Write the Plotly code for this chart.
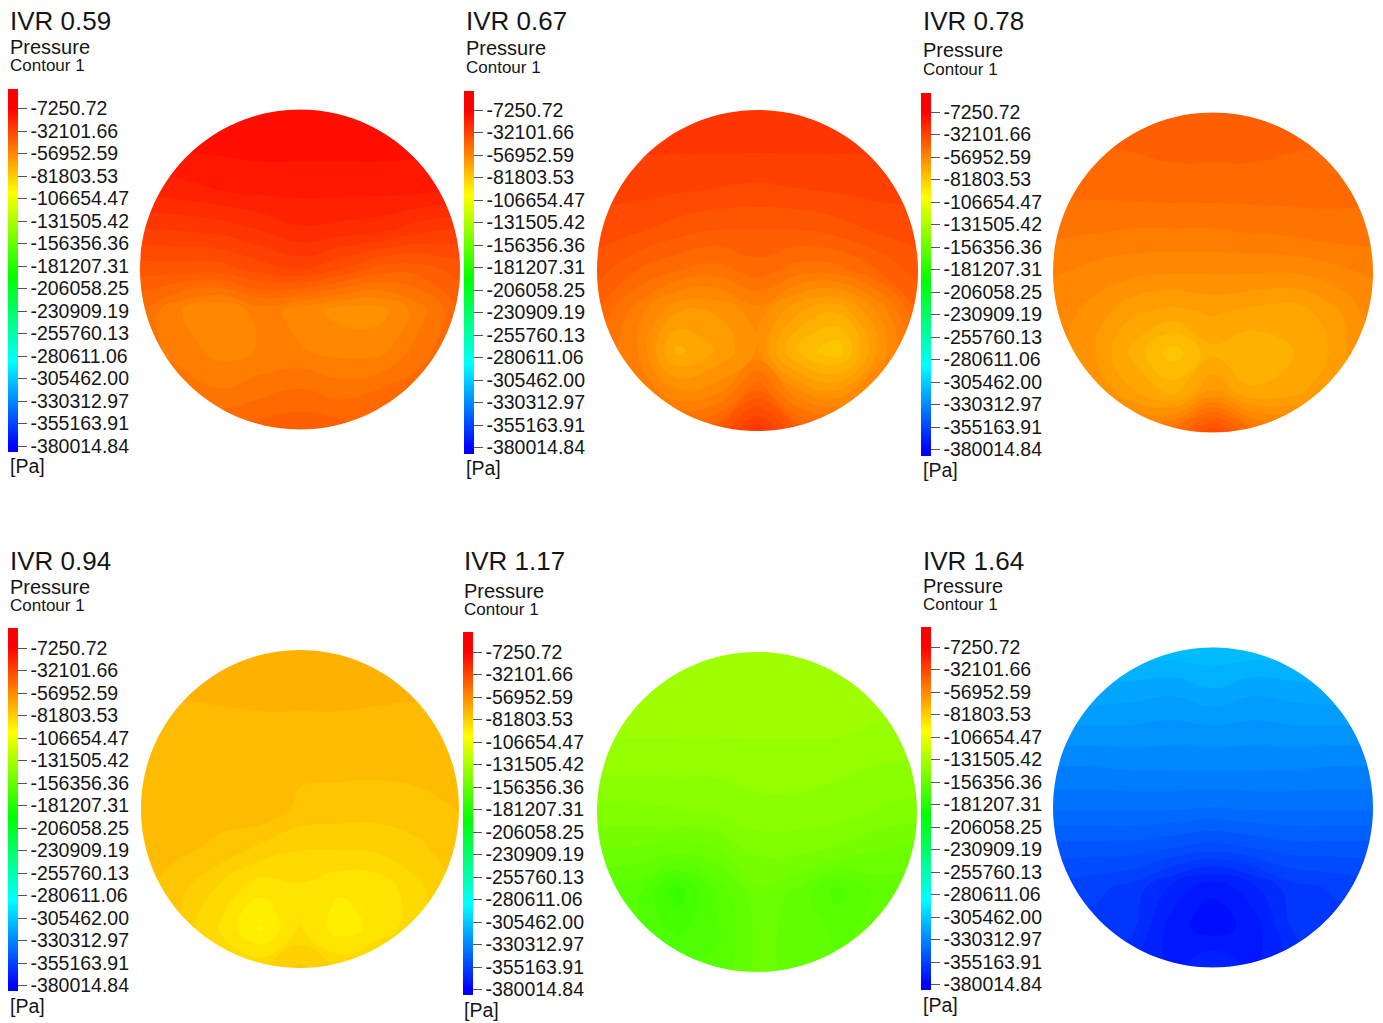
import plotly.graph_objects as go

W, H = 1383, 1023
OFF = 0  # page body margin is removed by the post script below

# ---------------- data ----------------
IVR_LABELS = ["IVR 0.59", "IVR 0.67", "IVR 0.78", "IVR 0.94", "IVR 1.17", "IVR 1.64"]
QUANTITY = "Pressure"
CONTOUR_NAME = "Contour 1"
UNIT = "[Pa]"

P_MAX = -7250.72
P_MIN = -380014.84
TICK_VALUES = [-7250.72, -32101.66, -56952.59, -81803.53, -106654.47, -131505.42,
               -156356.36, -181207.31, -206058.25, -230909.19, -255760.13,
               -280611.06, -305462.00, -330312.97, -355163.91, -380014.84]
TICK_LABELS = ["-7250.72", "-32101.66", "-56952.59", "-81803.53", "-106654.47",
               "-131505.42", "-156356.36", "-181207.31", "-206058.25", "-230909.19",
               "-255760.13", "-280611.06", "-305462.00", "-330312.97", "-355163.91",
               "-380014.84"]

# normalised cross-section coordinates (columns left->right, rows top->bottom)
X_GRID = [-1, -0.75, -0.5, -0.25, 0, 0.25, 0.5, 0.75, 1]
Y_GRID = [1, 0.75, 0.5, 0.25, 0, -0.25, -0.5, -0.75, -1]

P_IVR_059 = [
    [-12730, -12730, -12730, -12730, -12730, -12730, -12730, -12730, -12730],
    [-14560, -13830, -13100, -12730, -12730, -12730, -12730, -13100, -13830],
    [-20040, -18950, -17480, -16390, -16390, -16390, -16390, -16390, -17480],
    [-29180, -28450, -27350, -24790, -21870, -22600, -23700, -27350, -29180],
    [-38310, -38310, -38310, -34660, -32100, -36490, -41970, -41970, -38310],
    [-47450, -54760, -58410, -52930, -56590, -60240, -60240, -52930, -43800],
    [-49280, -52930, -56590, -54760, -54760, -56590, -56590, -49280, -43800],
    [-47450, -49280, -51100, -49280, -47450, -49280, -47450, -45620, -43800],
    [-43800, -43800, -43800, -41970, -40870, -41970, -43800, -43800, -43800],
]
P_IVR_067 = [
    [-27350, -27350, -27350, -27350, -27350, -27350, -27350, -27350, -27350],
    [-28450, -28450, -28450, -28450, -28450, -28450, -28450, -28450, -28450],
    [-31000, -31370, -32100, -32830, -33560, -32830, -32100, -31370, -31000],
    [-34660, -35760, -38310, -40140, -40140, -40140, -38310, -35760, -34660],
    [-38310, -43800, -47450, -49280, -45620, -49280, -49280, -43800, -38310],
    [-43800, -52930, -62070, -62070, -56590, -65720, -69380, -58410, -43800],
    [-47450, -54760, -71200, -65720, -58410, -74860, -80340, -62070, -47450],
    [-47450, -51100, -58410, -56590, -43800, -58410, -62070, -52930, -47450],
    [-43800, -43800, -43800, -40140, -25520, -40140, -43800, -43800, -43800],
]
P_IVR_078 = [
    [-40140, -40140, -40140, -40140, -40140, -40140, -40140, -40140, -40140],
    [-44890, -44890, -43800, -43060, -43060, -43060, -43800, -44890, -44890],
    [-46720, -46720, -46350, -45990, -45990, -45990, -45990, -46350, -46720],
    [-50370, -51100, -51840, -51840, -51840, -51100, -50370, -49280, -49280],
    [-54760, -56590, -57680, -58410, -58410, -58410, -58410, -56590, -54760],
    [-56590, -60240, -65720, -67550, -65720, -67550, -68650, -63900, -56590],
    [-56590, -62070, -71200, -79610, -71200, -73030, -70110, -65720, -56590],
    [-54760, -58410, -65720, -71200, -62070, -69380, -67550, -62070, -54760],
    [-51100, -51100, -51100, -47450, -32830, -47450, -51100, -51100, -51100],
]
P_IVR_094 = [
    [-71200, -71200, -71200, -71200, -71200, -71200, -71200, -71200, -71200],
    [-73030, -73030, -72300, -71200, -71200, -71200, -72300, -73030, -73030],
    [-74860, -75590, -75960, -75960, -75960, -75960, -75960, -75590, -74860],
    [-75960, -75960, -76690, -76690, -76690, -76690, -76690, -76690, -76690],
    [-75960, -75960, -75960, -74490, -78510, -79240, -79610, -78510, -77420],
    [-75960, -76690, -78510, -82170, -84730, -84730, -84000, -82170, -78510],
    [-76690, -80340, -85820, -91300, -89480, -92040, -91300, -85820, -80340],
    [-78510, -82170, -89480, -96790, -88380, -94230, -91300, -85820, -80340],
    [-80340, -80340, -82170, -85820, -80340, -85820, -82170, -80340, -80340],
]
P_IVR_117 = [
    [-134430, -134430, -134430, -134430, -134430, -134430, -134430, -134430, -134430],
    [-135160, -135160, -135160, -135160, -134430, -135160, -135160, -135890, -135890],
    [-136990, -136990, -136990, -136990, -136990, -136990, -136990, -138080, -138810],
    [-140640, -140640, -140640, -140640, -139910, -139910, -140640, -141740, -142470],
    [-146120, -146120, -145390, -144300, -142470, -142470, -143200, -145390, -146850],
    [-153430, -153430, -155260, -153430, -147950, -147950, -149780, -152700, -154160],
    [-160740, -162570, -173530, -162570, -153430, -157090, -165130, -158910, -158910],
    [-162570, -164400, -168050, -164400, -155260, -157090, -160740, -158910, -158910],
    [-162570, -162570, -162570, -162570, -155260, -157090, -158910, -158910, -158910],
]
P_IVR_164 = [
    [-310580, -310580, -310580, -310580, -310580, -310580, -310580, -310580, -310580],
    [-317890, -317890, -318620, -319720, -317160, -319720, -318620, -317890, -317890],
    [-325200, -325200, -325200, -325930, -325200, -325930, -325200, -325200, -325200],
    [-332510, -332510, -331780, -331780, -331780, -331780, -331780, -332510, -332510],
    [-339080, -339080, -339080, -339080, -339820, -339080, -339080, -339080, -339080],
    [-348950, -348950, -348950, -350780, -352610, -350780, -348950, -348950, -348950],
    [-356260, -357360, -359920, -367220, -372710, -367220, -359920, -358090, -356260],
    [-359920, -359920, -361740, -371980, -375630, -371980, -361740, -359920, -359920],
    [-361740, -361740, -365400, -370880, -365400, -370880, -365400, -361740, -361740],
]
FIELDS = [P_IVR_059, P_IVR_067, P_IVR_078, P_IVR_094, P_IVR_117, P_IVR_164]

# ---------------- layout (page pixels) ----------------
PANELS = [
    dict(cx=300, cy=269.5, r=160, bar_x=8, bar_top=89.0, text_x=8, title_y=21),
    dict(cx=757.5, cy=270.5, r=160.5, bar_x=464, bar_top=90.5, text_x=464, title_y=21),
    dict(cx=1213, cy=272.5, r=160, bar_x=921, bar_top=92.5, text_x=921, title_y=21),
    dict(cx=300, cy=809, r=159, bar_x=8, bar_top=628.5, text_x=8, title_y=561),
    dict(cx=757, cy=812, r=160, bar_x=463, bar_top=632.5, text_x=462, title_y=561),
    dict(cx=1213, cy=807.5, r=160, bar_x=921, bar_top=627.5, text_x=921, title_y=561),
]
BAR_LEN = 363.0          # px
BAR_THICK = 10           # px
TOP_TICK_OFFSET = 19.5   # px from bar top to first label
BOT_TICK_OFFSET = 6.0    # px from last label to bar bottom
FONT = "Liberation Sans, Arial, sans-serif"
TXT = "#161616"


def fx(px):
    return (px - OFF) / W


def fy(py):
    return 1 - (py - OFF) / H


step_px = (BAR_LEN - TOP_TICK_OFFSET - BOT_TICK_OFFSET) / (len(TICK_VALUES) - 1)
step_val = (P_MAX - P_MIN) / (len(TICK_VALUES) - 1)
CMAX = P_MAX + TOP_TICK_OFFSET / step_px * step_val
CMIN = P_MIN - BOT_TICK_OFFSET / step_px * step_val


def frac(v):
    return (v - CMIN) / (CMAX - CMIN)


tb, tr = frac(P_MIN), frac(P_MAX)
span = tr - tb
COLORSCALE = [
    [0.0, "rgb(0,0,255)"],
    [tb, "rgb(0,0,255)"],
    [tb + 0.25 * span, "rgb(0,255,255)"],
    [tb + 0.50 * span, "rgb(0,255,0)"],
    [tb + 0.75 * span, "rgb(255,255,0)"],
    [tr, "rgb(255,0,0)"],
    [1.0, "rgb(255,0,0)"],
]
N_BANDS = 107
BAND = (CMAX - CMIN) / N_BANDS

PAD = 1.03
K = 0.5523
MASK = (f"M {-PAD} {-PAD} L {PAD} {-PAD} L {PAD} {PAD} L {-PAD} {PAD} Z "
        f"M 1 0 C 1 {K} {K} 1 0 1 C {-K} 1 -1 {K} -1 0 "
        f"C -1 {-K} {-K} -1 0 -1 C {K} -1 1 {-K} 1 0 Z")

fig = go.Figure()
layout_axes = {}
shapes = []
annotations = []

for i, (p, z, title) in enumerate(zip(PANELS, FIELDS, IVR_LABELS)):
    n = "" if i == 0 else str(i + 1)
    xa, ya = "x" + n, "y" + n
    half = p["r"] * PAD
    layout_axes["xaxis" + n] = dict(domain=[fx(p["cx"] - half), fx(p["cx"] + half)],
                                   range=[-PAD, PAD], visible=False, fixedrange=True)
    layout_axes["yaxis" + n] = dict(domain=[fy(p["cy"] + half), fy(p["cy"] - half)],
                                   range=[-PAD, PAD], visible=False, fixedrange=True)

    fig.add_trace(go.Contour(
        x=X_GRID, y=Y_GRID, z=z, xaxis=xa, yaxis=ya,
        colorscale=COLORSCALE, zmin=CMIN, zmax=CMAX, showscale=False,
        contours=dict(start=CMIN + BAND / 2, end=CMAX - BAND / 2, size=BAND,
                      coloring="fill", showlines=False),
        line=dict(width=0, smoothing=1.3), hoverinfo="skip",
    ))

    bar_center = p["bar_top"] + BAR_LEN / 2
    fig.add_trace(go.Scatter(
        x=[0], y=[0], xaxis=xa, yaxis=ya, mode="markers", hoverinfo="skip", showlegend=False,
        marker=dict(size=1, opacity=0, color=[P_MAX], colorscale=COLORSCALE,
                    cmin=CMIN, cmax=CMAX, showscale=True,
                    colorbar=dict(x=fx(p["bar_x"]), xanchor="left", xpad=0, ypad=0,
                                  y=fy(bar_center), yanchor="middle",
                                  len=BAR_LEN / H, lenmode="fraction",
                                  thickness=BAR_THICK, thicknessmode="pixels",
                                  outlinewidth=0, tickmode="array",
                                  tickvals=TICK_VALUES, ticktext=TICK_LABELS,
                                  ticks="outside", ticklen=9, tickwidth=1, tickcolor="#555",
                                  tickfont=dict(family=FONT, size=19.5, color=TXT))),
    ))

    shapes.append(dict(type="path", xref=xa, yref=ya, path=MASK, fillrule="evenodd",
                       fillcolor="white", line=dict(width=0), layer="above"))

    last_tick = p["bar_top"] + BAR_LEN - BOT_TICK_OFFSET
    texts = [
        (title, p["title_y"], 26),
        (QUANTITY, p["bar_top"] - 42, 20),
        (CONTOUR_NAME, p["bar_top"] - 23, 17),
        (UNIT, last_tick + 20, 19.5),
    ]
    for t, yy, sz in texts:
        annotations.append(dict(text=t, x=fx(p["text_x"]), y=fy(yy), xref="paper", yref="paper",
                                xanchor="left", yanchor="middle", showarrow=False,
                                font=dict(family=FONT, size=sz, color=TXT)))

fig.update_layout(
    width=W, height=H, margin=dict(l=0, r=0, t=0, b=0),
    paper_bgcolor="white", plot_bgcolor="white", showlegend=False,
    shapes=shapes, annotations=annotations, **layout_axes,
)

fig.write_html("out.html", config={"displayModeBar": False},
               post_script="document.body.style.margin='0';")
